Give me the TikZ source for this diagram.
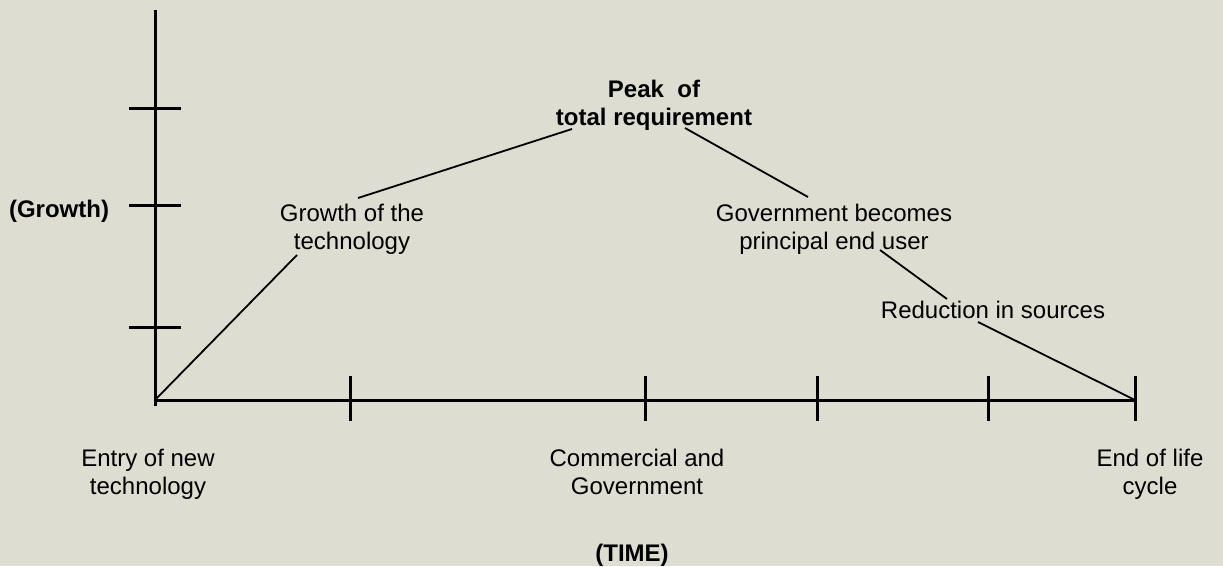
\documentclass[tikz,border=0pt]{standalone}
\usepackage{fontspec}
\setmainfont{Liberation Sans}
\begin{document}
\begin{tikzpicture}[x=1pt,y=-1pt,
  axis/.style={line width=3pt,black},
  tick/.style={line width=3pt,black},
  conn/.style={line width=1.8pt,black},
  lbl/.style={align=center,inner sep=0pt,font=\fontsize{24}{28}\selectfont},
  blbl/.style={lbl,font=\fontsize{24}{28}\selectfont\bfseries}]
\fill[fill={rgb,255:red,221;green,221;blue,209}] (0,0) rectangle (1223,566);
\useasboundingbox (0,0) rectangle (1223,566);
% axes
\coordinate (O) at (155,400);
\coordinate (ytop) at (155,10);
\coordinate (ybot) at (155,406);
\coordinate (xend) at (1137,400);
\draw[axis] (ybot) -- (ytop);
\draw[axis] (O) -- (xend);
% y ticks
\foreach \y in {108,205,327} \draw[tick] (129,\y) -- (181,\y);
% x ticks
\foreach \x in {350,645,817,988,1135} \draw[tick] (\x,376) -- (\x,421);
% labels
\node[blbl] (growth) at (59,211) {(Growth)};
\node[lbl] (gtech) at (352,229) {Growth of the\\technology};
\node[blbl] (peak) at (654,105) {Peak\ \ of\\total requirement};
\node[lbl] (gov) at (834,229) {Government becomes\\principal end user};
\node[lbl] (red) at (993,310) {Reduction in sources};
\node[lbl] (entry) at (148,475) {\strut Entry of new\\\strut technology};
\node[lbl] (comm) at (637,475) {\strut Commercial and\\\strut Government};
\node[lbl] (endl) at (1150,475) {\strut End of life\\\strut cycle};
\node[blbl] (time) at (632,555) {(TIME)};
% connector end points
\coordinate (a1) at (297,255);
\coordinate (b0) at (358,198);
\coordinate (b1) at (572,129);
\coordinate (c0) at (685,128);
\coordinate (c1) at (808,197);
\coordinate (d0) at (880,250);
\coordinate (d1) at (947,299);
\coordinate (e0) at (978,322);
\coordinate (E) at (1135,400);
\draw[conn] (O) -- (a1);
\draw[conn] (b0) -- (b1);
\draw[conn] (c0) -- (c1);
\draw[conn] (d0) -- (d1);
\draw[conn] (e0) -- (E);
\end{tikzpicture}
\end{document}
